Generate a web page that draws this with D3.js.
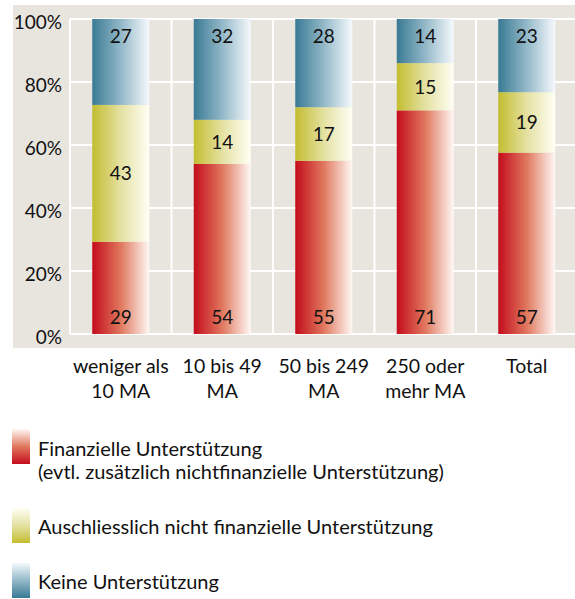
<!DOCTYPE html>
<html>
<head>
<meta charset="utf-8">
<script src="https://cdn.jsdelivr.net/npm/d3@7"></script>
<style>
  html, body { margin: 0; padding: 0; background: #fff; }
  svg { display: block; font-family: Lato, 'Open Sans', sans-serif; }
</style>
</head>
<body>
<div id="chart"></div>
<script>
// Firmengrösse (Kategorien), Werte in Prozent
const categories = ['weniger als\n10 MA', '10 bis 49\nMA', '50 bis 249\nMA', '250 oder\nmehr MA', 'Total']
const finanziell = [29, 54, 55, 71, 57]
const nurNichtFinanziell = [43, 14, 17, 15, 19]
const keine = [27, 32, 28, 14, 23]
const yTicks = [0, 20, 40, 60, 80, 100]

const seriesInfo = [
  { key: 'fin', values: finanziell, grad: 'g-red', legend: ['Finanzielle Unterstützung', '(evtl. zusätzlich nichtfinanzielle Unterstützung)'] },
  { key: 'nfin', values: nurNichtFinanziell, grad: 'g-yellow', legend: ['Auschliesslich nicht finanzielle Unterstützung'] },
  { key: 'keine', values: keine, grad: 'g-blue', legend: ['Keine Unterstützung'] }
]

const width = 575
const height = 599
const plot = { left: 70, top: 19, right: 577.5, bottom: 334 }
const textColor = '#111'

const svg = d3.select('#chart')
  .append('svg')
  .attr('width', width)
  .attr('height', height)

const defs = svg.append('defs')

const gradients = [
  { id: 'g-red', stops: ['#c40c1c', '#e0785e', '#fff8f5'] },
  { id: 'g-yellow', stops: ['#c3bd30', '#e4e1a2', '#fffff5'] },
  { id: 'g-blue', stops: ['#397a94', '#93b8c8', '#f5f9fc'] }
]

gradients.forEach(g => {
  // horizontal for bars
  const h = defs.append('linearGradient').attr('id', g.id)
    .attr('x1', 0).attr('x2', 1).attr('y1', 0).attr('y2', 0)
  h.selectAll('stop').data(g.stops).join('stop')
    .attr('offset', (d, i) => i / 2)
    .attr('stop-color', d => d)
  // vertical for legend swatches, dark at bottom
  const v = defs.append('linearGradient').attr('id', g.id + '-v')
    .attr('x1', 0).attr('x2', 0).attr('y1', 1).attr('y2', 0)
  v.selectAll('stop').data(g.stops).join('stop')
    .attr('offset', (d, i) => i / 2)
    .attr('stop-color', d => d)
})

// background panel
svg.append('rect')
  .attr('x', 13).attr('y', 5)
  .attr('width', width - 13).attr('height', 343)
  .attr('fill', '#e8e5df')

const x = d3.scaleBand()
  .domain(categories)
  .range([plot.left, plot.right])
  .padding(0)

const y = d3.scaleLinear()
  .domain([0, 1])
  .range([plot.bottom, plot.top])

const barWidth = 57

// grid
const grid = svg.append('g').attr('stroke', '#fff').attr('stroke-width', 2)
grid.selectAll('line.h')
  .data(yTicks)
  .join('line')
  .attr('class', 'h')
  .attr('x1', plot.left).attr('x2', width)
  .attr('y1', d => y(d / 100)).attr('y2', d => y(d / 100))
grid.selectAll('line.v')
  .data(categories.map(c => x(c)).concat([plot.right]))
  .join('line')
  .attr('class', 'v')
  .attr('x1', d => d).attr('x2', d => d)
  .attr('y1', plot.top).attr('y2', plot.bottom)

// y tick labels
svg.append('g')
  .selectAll('text')
  .data(yTicks)
  .join('text')
  .attr('x', 62)
  .attr('y', d => y(d / 100) + 10)
  .attr('text-anchor', 'end')
  .attr('font-size', 19)
  .attr('fill', textColor)
  .text(d => d + '%')

// stacked data
const table = categories.map((c, i) => {
  const row = { cat: c }
  seriesInfo.forEach(s => { row[s.key] = s.values[i] })
  return row
})

const stack = d3.stack()
  .keys(seriesInfo.map(s => s.key))
  .offset(d3.stackOffsetExpand)

const stacked = stack(table)

const layers = svg.append('g')
  .selectAll('g')
  .data(stacked)
  .join('g')
  .attr('fill', (d, i) => `url(#${seriesInfo[i].grad})`)

layers.selectAll('rect')
  .data(d => d)
  .join('rect')
  .attr('x', d => x(d.data.cat) + x.bandwidth() / 2 - barWidth / 2)
  .attr('width', barWidth)
  .attr('y', d => y(d[1]))
  .attr('height', d => y(d[0]) - y(d[1]))

// value labels
const last = stacked.length - 1
layers.each(function (layer, li) {
  d3.select(this).selectAll('text')
    .data(layer)
    .join('text')
    .attr('x', d => x(d.data.cat) + x.bandwidth() / 2)
    .attr('y', d => {
      if (li === 0) return y(0) - 10
      if (li === last) return y(1) + 24
      return (y(d[0]) + y(d[1])) / 2 + 7
    })
    .attr('text-anchor', 'middle')
    .attr('font-size', 19)
    .attr('fill', textColor)
    .text(d => d.data[layer.key])
})

// category labels
svg.append('g')
  .selectAll('text')
  .data(categories)
  .join('text')
  .attr('text-anchor', 'middle')
  .attr('font-size', 19.5)
  .attr('fill', textColor)
  .attr('transform', d => `translate(${x(d) + x.bandwidth() / 2}, 373)`)
  .each(function (d) {
    d.split('\n').forEach((line, i) => {
      d3.select(this).append('tspan')
        .attr('x', 0)
        .attr('y', i * 25)
        .text(line)
    })
  })

// legend
const legendRows = [
  { box: 429, text: 456 },
  { box: 508, text: 534 },
  { box: 563, text: 589 }
]

const legend = svg.append('g')
  .selectAll('g')
  .data(seriesInfo)
  .join('g')

legend.append('rect')
  .attr('x', 12)
  .attr('y', (d, i) => legendRows[i].box)
  .attr('width', 18)
  .attr('height', 35)
  .attr('fill', d => `url(#${d.grad}-v)`)

legend.append('text')
  .attr('font-size', 20)
  .attr('fill', textColor)
  .attr('x', 38)
  .attr('y', (d, i) => legendRows[i].text)
  .each(function (d) {
    d.legend.forEach((line, j) => {
      d3.select(this).append('tspan')
        .attr('x', 38)
        .attr('dy', j === 0 ? 0 : 23)
        .text(line)
    })
  })
</script>
</body>
</html>
